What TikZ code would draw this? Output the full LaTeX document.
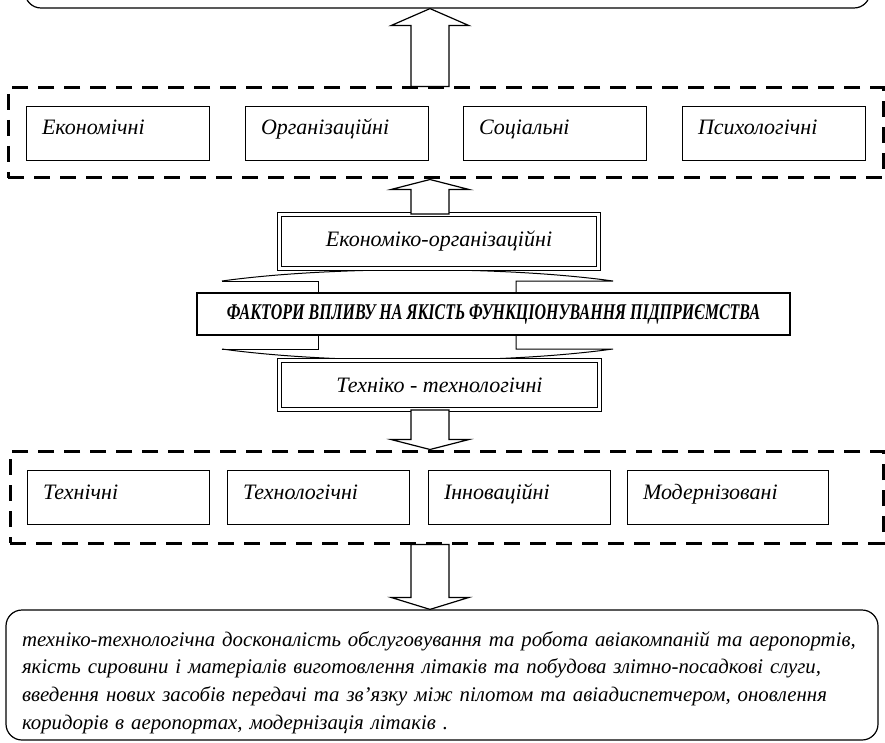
\documentclass[tikz,border=0pt]{standalone}
\usepackage{fontspec}
\setmainfont{Liberation Serif}
\newfontfamily\narrowserif[FakeStretch=0.71]{Liberation Serif}
\usetikzlibrary{calc}
\tikzset{
	factor/.style={draw, line width=0.8pt, minimum height=54pt, text width=#1, inner xsep=16pt, align=left, text height=14pt, text depth=10pt, font=\fontsize{22}{26}\selectfont\itshape},
	group/.style={draw, line width=3pt, dash pattern=on 16pt off 10pt},
	twoline/.style={draw, fill=white, double, double distance=3pt, line width=0.8pt, font=\fontsize{22}{26}\selectfont\itshape},
	roundbox/.style={draw, line width=1.2pt, rounded corners=16pt},
	fold/.style={line width=1pt},
	bigarrow/.style={draw, line width=1.2pt, fill=white, to path={let \p1=(\tikztostart), \p2=(\tikztotarget), \n1={ifthenelse(\y2>\y1,-1,1)*#1} in
		(\x1-19pt,\y1) -- (\x1-19pt,{\y2+\n1*1pt}) -- (\x1-39pt,{\y2+\n1*1pt}) -- (\p2) -- (\x1+39pt,{\y2+\n1*1pt}) -- (\x1+19pt,{\y2+\n1*1pt}) -- (\x1+19pt,\y1) -- cycle}}
}
\begin{document}
\begin{tikzpicture}[x=1pt,y=-1pt]
	\useasboundingbox (0,0) rectangle (885,743);
	% top box, only its lower edge is seen
	\node [roundbox, minimum width=845, minimum height=80] (result) at (447.5,-32) {};
	% upper group
	\node [group, minimum width=875, minimum height=90] (upper) at (445.5,133) {};
	\node [factor=151pt] (econ) at (117.5,133) {Економічні};
	\node [factor=151pt] (org) at (336.5,133) {Організаційні};
	\node [factor=151pt] (soc) at (554.5,133) {Соціальні};
	\node [factor=151pt] (psy) at (773.5,133) {Психологічні};
	% ribbon folds
	\draw [fold] (222,281) .. controls (330,266) and (505,266) .. (613,281) -- (516,281) -- (516,293);
	\draw [fold] (222,281) -- (318,281) -- (318,293);
	\draw [fold] (222,349) .. controls (330,364) and (505,364) .. (613,349) -- (516,349) -- (516,335);
	\draw [fold] (222,349) -- (318,349) -- (318,335);
	\node [draw, fill=white, line width=1.2pt, minimum width=593, minimum height=42, font=\fontsize{22.5}{24}\narrowserif\bfseries\itshape] (banner) at (493.5,314) {ФАКТОРИ ВПЛИВУ НА ЯКІСТЬ ФУНКЦІОНУВАННЯ ПІДПРИЄМСТВА};
	\node [twoline, minimum width=319, minimum height=54] (econorg) at (439,241.5) {Економіко-організаційні};
	\node [twoline, minimum width=320, minimum height=49] (techtech) at (439.5,385) {Техніко - технологічні};
	% lower group
	\node [group, minimum width=873, minimum height=92] (lower) at (446.5,497) {};
	\node [factor=150pt] (tech) at (118,497.5) {Технічні};
	\node [factor=150pt] (techn) at (318,497.5) {Технологічні};
	\node [factor=150pt] (innov) at (519,497.5) {Інноваційні};
	\node [factor=169pt] (modern) at (727.5,497.5) {Модернізовані};
	% bottom box
	\node [roundbox, minimum width=872, minimum height=130, text width=840, inner xsep=16pt, align=left, font=\fontsize{20.8}{27.7}\selectfont\itshape] (outcome) at (442,675) {\rule{0pt}{30pt}техніко-технологічна досконалість обслуговування та робота авіакомпаній та аеропортів,\\
		якість сировини і матеріалів виготовлення літаків та побудова злітно-посадкові слуги,\\
		введення нових засобів передачі та зв’язку між пілотом та авіадиспетчером, оновлення\\
		коридорів в аеропортах, модернізація літаків .};
	% block arrows
	\draw [bigarrow=17] (430,0 |- upper.north) to (430,0 |- result.south);
	\draw [bigarrow=10] (430,0 |- econorg.north) to (430,0 |- upper.south);
	\draw [bigarrow=10] (430,0 |- techtech.south) to (430,0 |- lower.north);
	\draw [bigarrow=12] (430,0 |- lower.south) to (430,0 |- outcome.north);
\end{tikzpicture}
\end{document}
